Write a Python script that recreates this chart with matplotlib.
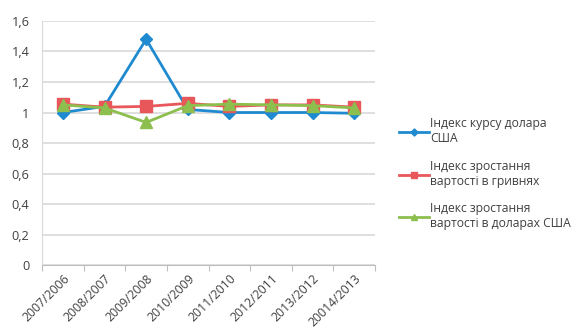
import matplotlib.pyplot as plt
import numpy as np

plt.rcParams['font.family'] = ['Open Sans', 'DejaVu Sans']

periods = ['2007/2006', '2008/2007', '2009/2008', '2010/2009',
           '2011/2010', '2012/2011', '2013/2012', '20014/2013']
usd_rate = [1.0, 1.04, 1.48, 1.02, 1.0, 1.0, 1.0, 0.995]
growth_uah = [1.055, 1.035, 1.04, 1.06, 1.04, 1.05, 1.05, 1.035]
growth_usd = [1.05, 1.03, 0.935, 1.045, 1.055, 1.05, 1.045, 1.03]

labels = ['Індекс курсу долара\nСША',
          'Індекс зростання\nвартості в гривнях',
          'Індекс зростання\nвартості в доларах США']

fig = plt.figure(figsize=(5.85, 3.33), dpi=100)
ax = fig.add_axes([0.072, 0.204, 0.569, 0.733])

x = np.arange(len(periods))
ax.plot(x, usd_rate, color='#1f8ad0', lw=2, marker='D', ms=6, label=labels[0], zorder=3)
ax.plot(x, growth_uah, color='#e8585a', lw=2, marker='s', ms=8, label=labels[1], zorder=4)
ax.plot(x, growth_usd, color='#8cbf4e', lw=2, marker='^', ms=8, label=labels[2], zorder=5)

ax.set_xlim(-0.5, len(periods) - 0.5)
ax.set_ylim(0, 1.6)
ax.set_yticks(np.arange(0, 1.61, 0.2))
ax.set_yticklabels(['0', '0,2', '0,4', '0,6', '0,8', '1', '1,2', '1,4', '1,6'])
ax.yaxis.grid(True, color='#d9d9d9', lw=1.2)
ax.set_axisbelow(True)

# ticks between categories, labels at centres
ax.set_xticks(np.arange(-0.5, len(periods)), minor=False)
ax.set_xticklabels([])
ax.set_xticks(x, minor=True)
ax.set_xticklabels(periods, minor=True, rotation=45, ha='right', rotation_mode='anchor',
                   fontsize=8.8, color='#404040')
ax.tick_params(axis='x', which='major', length=4, color='#bfbfbf')
ax.tick_params(axis='x', which='minor', length=0, pad=5)
ax.tick_params(axis='y', length=0, labelsize=9.2, colors='#404040', pad=9)

for s in ['top', 'right']:
    ax.spines[s].set_visible(False)
ax.spines['bottom'].set_color('#bfbfbf')
ax.spines['left'].set_color('#d9d9d9')

leg = fig.legend(loc='upper left', bbox_to_anchor=(0.663, 0.68), frameon=False,
                 fontsize=8.7, handlelength=2.5, handletextpad=0.1,
                 labelspacing=1.2, markerscale=0.6, labelcolor='#404040')

fig.savefig('out.png', dpi=100)
